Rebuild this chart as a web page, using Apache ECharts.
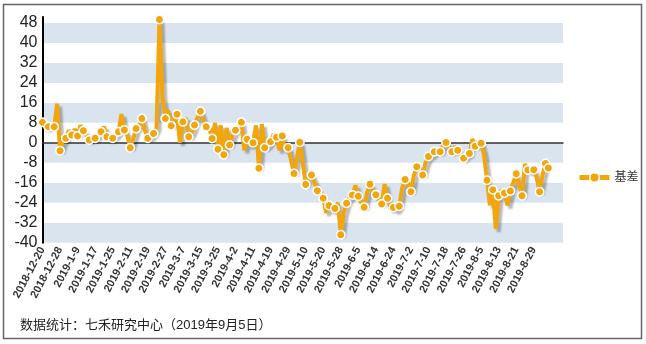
<!DOCTYPE html>
<html>
<head>
<meta charset="utf-8">
<script src="https://cdn.jsdelivr.net/npm/echarts@6/dist/echarts.min.js"></script>
<style>
html,body{margin:0;padding:0;background:#fff;}
#chart{width:646px;height:344px;}
</style>
</head>
<body>
<div id="chart"></div>
<script>
// Trading-day categories
const categories = [
  "2018-12-20","2018-12-21","2018-12-24","2018-12-25","2018-12-26","2018-12-27","2018-12-28",
  "2019-1-2","2019-1-3","2019-1-4","2019-1-7","2019-1-8","2019-1-9","2019-1-10","2019-1-11",
  "2019-1-14","2019-1-15","2019-1-16","2019-1-17","2019-1-18","2019-1-21","2019-1-22","2019-1-23",
  "2019-1-24","2019-1-25","2019-1-28","2019-1-29","2019-1-30","2019-1-31",
  "2019-2-1","2019-2-11","2019-2-12","2019-2-13","2019-2-14","2019-2-15","2019-2-18","2019-2-19",
  "2019-2-20","2019-2-21","2019-2-22","2019-2-25","2019-2-26","2019-2-27","2019-2-28",
  "2019-3-1","2019-3-4","2019-3-5","2019-3-6","2019-3-7","2019-3-8","2019-3-11","2019-3-12",
  "2019-3-13","2019-3-14","2019-3-15","2019-3-18","2019-3-19","2019-3-20","2019-3-21","2019-3-22",
  "2019-3-25","2019-3-26","2019-3-27","2019-3-28","2019-3-29",
  "2019-4-1","2019-4-2","2019-4-3","2019-4-4","2019-4-8","2019-4-9","2019-4-10","2019-4-11",
  "2019-4-12","2019-4-15","2019-4-16","2019-4-17","2019-4-18","2019-4-19","2019-4-22","2019-4-23",
  "2019-4-24","2019-4-25","2019-4-26","2019-4-29","2019-4-30",
  "2019-5-6","2019-5-7","2019-5-8","2019-5-9","2019-5-10","2019-5-13","2019-5-14","2019-5-15",
  "2019-5-16","2019-5-17","2019-5-20","2019-5-21","2019-5-22","2019-5-23","2019-5-24","2019-5-27",
  "2019-5-28","2019-5-29","2019-5-30","2019-5-31",
  "2019-6-3","2019-6-4","2019-6-5","2019-6-6","2019-6-10","2019-6-11","2019-6-12","2019-6-13",
  "2019-6-14","2019-6-17","2019-6-18","2019-6-19","2019-6-20","2019-6-21","2019-6-24","2019-6-25",
  "2019-6-26","2019-6-27","2019-6-28",
  "2019-7-1","2019-7-2","2019-7-3","2019-7-4","2019-7-5","2019-7-8","2019-7-9","2019-7-10",
  "2019-7-11","2019-7-12","2019-7-15","2019-7-16","2019-7-17","2019-7-18","2019-7-19","2019-7-22",
  "2019-7-23","2019-7-24","2019-7-25","2019-7-26","2019-7-29","2019-7-30","2019-7-31",
  "2019-8-1","2019-8-2","2019-8-5","2019-8-6","2019-8-7","2019-8-8","2019-8-9","2019-8-12",
  "2019-8-13","2019-8-14","2019-8-15","2019-8-16","2019-8-19","2019-8-20","2019-8-21","2019-8-22",
  "2019-8-23","2019-8-26","2019-8-27","2019-8-28","2019-8-29","2019-8-30",
  "2019-9-2","2019-9-3","2019-9-4","2019-9-5"
];
// Empty slots after the last day (axis runs a little past the data)
const trailingBlanks = ["", "", "", "", ""];

// 基差 values
const basis = [
  8.2, 6, 6.4, 7, 6.4, 15.7, -3.2, 0.5, 1.8, 5,
  3.1, 5.5, 2.7, 7, 4.8, 3, 1.1, 1.5, 1.8, 3,
  4.4, 6.5, 2.4, 1.5, 1.8, 3, 4.4, 11.5, 5.1, 3,
  -2, 1.5, 5.7, 7, 9.7, 5, 1.8, 2.5, 3.7, 6,
  49.4, 19, 9.7, 13, 6.8, 10, 11.4, 0, 8.4, 10,
  2.4, 4, 7.1, 10, 12.6, 9, 6.4, 6, 1.7, 8,
  -2.6, 7, -4.8, 6, -0.9, 3, 5, 6, 8.2, -3,
  1.4, -1, 0, 7, -10.2, 7.5, -2, -1, 0.4, 3.5,
  2.2, -3, 2.7, -3, -2, -7, -12.3, -6, 0.2, -8,
  -16.7, -14, -12.9, -16, -19.2, -20, -22.2, -28, -25.1, -27,
  -26.3, -24, -36.8, -28, -24.2, -22, -20.9, -17, -21.4, -24,
  -25.8, -20, -16.6, -19, -20.8, -23, -24.5, -16.5, -22.2, -26.5,
  -25.9, -27, -25.4, -18, -14.7, -16, -19.6, -13, -9.6, -10,
  -12.9, -8, -5.5, -5, -3.6, -3, -3.6, -1, 0.1, -2,
  -3.6, -1.5, -3, -5, -6.2, -5, -4.3, 1.5, -1.4, 0.5,
  -0.2, -5, -15, -25, -18.8, -34.5, -21.2, -19, -20.1, -25,
  -19.3, -16, -12.4, -17, -21.2, -8.5, -10.9, -11.5, -10.8, -14,
  -19.6, -13, -8.3, -10.1
];

const yMin = -40, yMax = 50.4, yStep = 8;
const labelStep = 6;
const seriesName = '基差';
const footer = '数据统计：七禾研究中心（2019年9月5日）';

const axisData = categories.concat(trailingBlanks);
const lastIdx = basis.length - 1;
const orange = '#f2a50c';
const font = "'Liberation Sans', Arial, 'Noto Sans CJK SC', sans-serif";

const chart = echarts.init(document.getElementById('chart'), null, {renderer: 'canvas'});
chart.setOption({
  animation: false,
  backgroundColor: '#fff',
  textStyle: {fontFamily: font},
  title: {
    text: footer, left: 20, top: 319, padding: 0,
    textStyle: {fontSize: 13, fontWeight: 'normal', color: '#222', fontFamily: font}
  },
  legend: {
    data: [seriesName], left: 577, top: 171.5, padding: 0,
    itemWidth: 30, itemHeight: 12,
    lineStyle: {width: 5, color: orange},
    itemStyle: {color: orange, borderColor: '#fff', borderWidth: 1.5},
    textStyle: {fontSize: 12, color: '#333'}
  },
  grid: {left: 42.5, right: 83, top: 17, bottom: 101.3, containLabel: false},
  xAxis: [{
    type: 'category', data: axisData, boundaryGap: false,
    axisLine: {show: false, onZero: false},
    axisTick: {show: false},
    splitLine: {show: false},
    axisLabel: {
      rotate: 62, fontSize: 11, fontWeight: 'bold', color: '#333', margin: 5,
      interval: function (index, value) { return index % labelStep === 0 && value !== ''; }
    }
  }, {
    type: 'category', data: axisData, boundaryGap: false, position: 'bottom',
    axisLine: {show: true, onZero: true, lineStyle: {color: '#333', width: 1.5}},
    axisTick: {show: false}, axisLabel: {show: false}, splitLine: {show: false}
  }],
  yAxis: {
    type: 'value', min: yMin, max: yMax, interval: yStep,
    axisLine: {show: true, lineStyle: {color: '#000', width: 2}},
    axisTick: {show: false},
    splitLine: {show: false},
    splitArea: {show: true, areaStyle: {color: ['#dae4ef', '#ffffff']}},
    axisLabel: {fontSize: 16, color: '#222', margin: 5, showMaxLabel: false}
  },
  series: [{
    name: seriesName, type: 'line', data: basis,
    xAxisIndex: 0, yAxisIndex: 0,
    symbol: 'circle', showAllSymbol: true,
    symbolSize: function (v, p) { return (p.dataIndex % 2 === 0 || p.dataIndex === lastIdx) ? 8.5 : 0; },
    lineStyle: {width: 4, color: orange, shadowColor: 'rgba(0,0,0,0.28)', shadowBlur: 2, shadowOffsetX: 3, shadowOffsetY: 3},
    itemStyle: {color: orange, borderColor: '#fff', borderWidth: 1.5}
  }],
  graphic: [{
    type: 'rect', silent: true, z: 100,
    shape: {x: 3.5, y: 4.5, width: 638, height: 334},
    style: {fill: 'none', stroke: '#666', lineWidth: 1.5}
  }]
});
</script>
</body>
</html>
